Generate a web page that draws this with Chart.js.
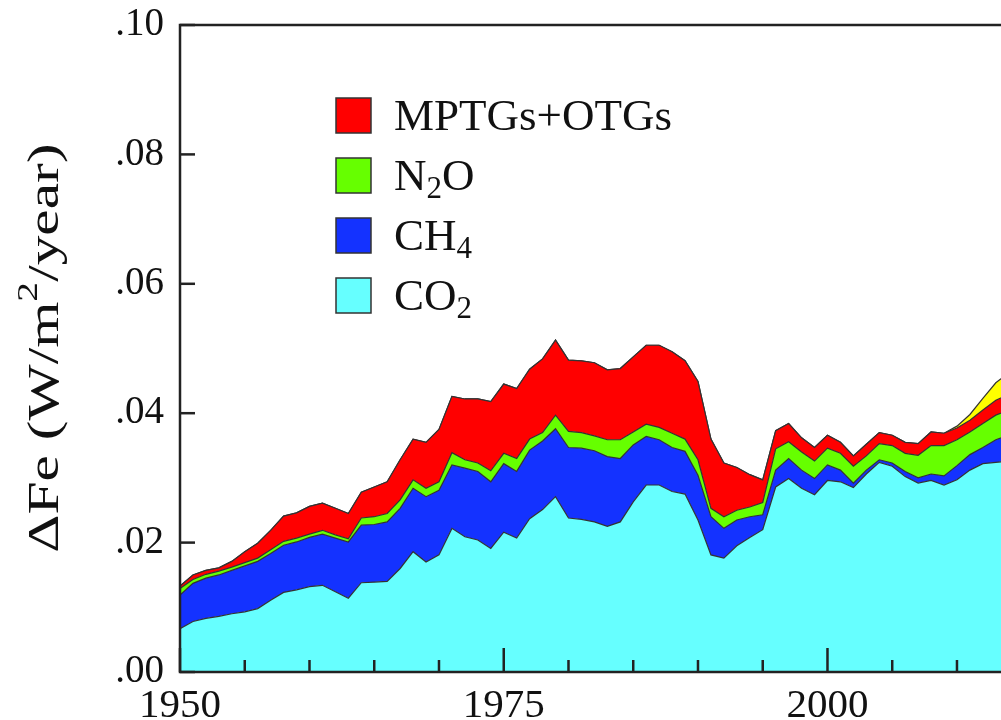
<!DOCTYPE html>
<html>
<head>
<meta charset="utf-8">
<script src="https://cdn.jsdelivr.net/npm/chart.js@4.4.1/dist/chart.umd.min.js"></script>
<style>
  html, body { margin: 0; padding: 0; background: #fff; overflow: hidden; }
  #grafico { display: block; }
</style>
</head>
<body>
<canvas id="grafico" width="1001" height="720"></canvas>
<script>
// años 1950-2014 (el gráfico original se corta cerca de 2013)
const anios = [1950,1951,1952,1953,1954,1955,1956,1957,1958,1959,
  1960,1961,1962,1963,1964,1965,1966,1967,1968,1969,
  1970,1971,1972,1973,1974,1975,1976,1977,1978,1979,
  1980,1981,1982,1983,1984,1985,1986,1987,1988,1989,
  1990,1991,1992,1993,1994,1995,1996,1997,1998,1999,
  2000,2001,2002,2003,2004,2005,2006,2007,2008,2009,
  2010,2011,2012,2013,2014]

const co2 = [.0067,.0078,.0083,.0086,.0090,.0093,.0098,.0111,.0123,.0127,
  .0132,.0134,.0124,.0114,.0138,.0139,.0140,.0160,.0186,.0170,
  .0181,.0222,.0209,.0204,.0191,.0216,.0207,.0237,.0251,.0271,
  .0238,.0236,.0232,.0225,.0232,.0263,.0289,.0289,.0279,.0275,
  .0235,.0181,.0176,.0195,.0208,.0220,.0286,.0299,.0284,.0274,
  .0296,.0294,.0285,.0306,.0324,.0318,.0302,.0292,.0296,.0289,
  .0297,.0312,.0322,.0324,.0326]

const ch4 = [.0052,.0059,.0062,.0064,.0067,.0071,.0073,.0072,.0073,.0074,
  .0076,.0079,.0083,.0087,.0089,.0089,.0092,.0093,.0098,.0101,
  .0100,.0098,.0106,.0106,.0103,.0106,.0103,.0106,.0106,.0105,
  .0109,.0110,.0110,.0108,.0098,.0088,.0075,.0070,.0068,.0066,
  .0069,.0059,.0046,.0040,.0032,.0023,.0026,.0031,.0028,.0025,
  .0024,.0018,.0007,.0006,.0004,.0005,.0008,.0008,.0010,.0014,
  .0022,.0024,.0025,.0035,.0040]

const n2o = [.0010,.0006,.0006,.0006,.0005,.0005,.0005,.0006,.0006,.0006,
  .0005,.0006,.0005,.0005,.0011,.0012,.0013,.0013,.0013,.0013,
  .0013,.0019,.0013,.0013,.0017,.0016,.0020,.0017,.0013,.0021,
  .0025,.0024,.0023,.0026,.0029,.0020,.0019,.0019,.0022,.0019,
  .0024,.0013,.0018,.0015,.0015,.0019,.0033,.0026,.0028,.0027,
  .0026,.0026,.0026,.0022,.0025,.0027,.0028,.0035,.0044,.0047,
  .0040,.0035,.0037,.0038,.0039]

const otros = [.0004,.0007,.0006,.0005,.0009,.0017,.0023,.0030,.0039,.0039,
  .0043,.0042,.0041,.0039,.0040,.0046,.0049,.0062,.0063,.0071,
  .0081,.0087,.0094,.0099,.0107,.0107,.0108,.0108,.0114,.0116,
  .0110,.0111,.0113,.0108,.0110,.0116,.0122,.0127,.0126,.0121,
  .0121,.0107,.0083,.0066,.0050,.0035,.0028,.0028,.0022,.0021,
  .0020,.0017,.0016,.0018,.0017,.0016,.0017,.0018,.0021,.0019,
  .0018,.0018,.0021,.0023,.0024]

// capa amarilla sin leyenda al final de la serie
const amarillo = [0,0,0,0,0,0,0,0,0,0,
  0,0,0,0,0,0,0,0,0,0,
  0,0,0,0,0,0,0,0,0,0,
  0,0,0,0,0,0,0,0,0,0,
  0,0,0,0,0,0,0,0,0,0,
  0,0,0,0,0,0,0,0,0,0,
  .0003,.0009,.0018,.0027,.0034]

const yTicks = [0, .02, .04, .06, .08, .10]
const xLabels = [1950, 1975, 2000]

const leyenda = [
  { texto: 'MPTGs+OTGs', sub: '', resto: '', color: '#ff0000' },
  { texto: 'N', sub: '2', resto: 'O', color: '#66ff00' },
  { texto: 'CH', sub: '4', resto: '', color: '#1432ff' },
  { texto: 'CO', sub: '2', resto: '', color: '#66ffff' }
]

const serif = '"Liberation Serif", "Times New Roman", serif'
const linea = '#333'

const capa = (label, data, color) => ({
  label: label,
  data: data,
  backgroundColor: color,
  borderColor: linea,
  borderWidth: 1.2,
  fill: '-1',
  pointRadius: 0,
  tension: 0
})

const datasets = [
  capa('CO2', co2, '#66ffff'),
  capa('CH4', ch4, '#1432ff'),
  capa('N2O', n2o, '#66ff00'),
  capa('MPTGs+OTGs', otros, '#ff0000'),
  capa('', amarillo, '#ffff00')
]
datasets[0].fill = 'origin'

// ejes, marcas hacia adentro, leyenda y título del eje y
const marco = {
  id: 'marco',
  afterDatasetsDraw(chart) {
    const ctx = chart.ctx
    const a = chart.chartArea
    const x = chart.scales.x
    const y = chart.scales.y
    ctx.save()
    ctx.strokeStyle = '#222'
    ctx.lineWidth = 2.5
    ctx.beginPath()
    ctx.moveTo(chart.width + 5, a.top)
    ctx.lineTo(a.left, a.top)
    ctx.lineTo(a.left, a.bottom)
    ctx.lineTo(chart.width + 5, a.bottom)
    ctx.stroke()
    x.ticks.forEach(t => {
      const px = x.getPixelForValue(t.value)
      const largo = t.value % 25 === 0 ? 24 : 12
      ctx.beginPath()
      ctx.moveTo(px, a.bottom)
      ctx.lineTo(px, a.bottom - largo)
      ctx.stroke()
    })
    y.ticks.forEach(t => {
      const py = y.getPixelForValue(t.value)
      ctx.beginPath()
      ctx.moveTo(a.left, py)
      ctx.lineTo(a.left + 15, py)
      ctx.stroke()
    })

    // leyenda
    ctx.textBaseline = 'alphabetic'
    ctx.textAlign = 'left'
    leyenda.forEach((item, i) => {
      const cy = 115.5 + i * 60
      ctx.fillStyle = item.color
      ctx.fillRect(336, cy - 17.5, 35, 35)
      ctx.lineWidth = 1.5
      ctx.strokeStyle = linea
      ctx.strokeRect(336, cy - 17.5, 35, 35)
      ctx.fillStyle = '#111'
      let px = 394
      const base = cy + 14.5
      ctx.font = '45px ' + serif
      ctx.fillText(item.texto, px, base)
      px += ctx.measureText(item.texto).width
      if (item.sub) {
        ctx.font = '31px ' + serif
        ctx.fillText(item.sub, px, base + 8)
        px += ctx.measureText(item.sub).width
      }
      if (item.resto) {
        ctx.font = '45px ' + serif
        ctx.fillText(item.resto, px, base)
      }
    })

    // título eje y (en el original aparece estirado a lo largo)
    const partes = [['\u0394Fe (W/m', 45, 0], ['2', 30, -17], ['/year)', 45, 0]]
    let total = 0
    partes.forEach(p => { ctx.font = p[1] + 'px ' + serif; total += ctx.measureText(p[0]).width })
    ctx.translate(46, 348)
    ctx.rotate(-Math.PI / 2)
    ctx.scale(1.32, 1)
    ctx.textBaseline = 'middle'
    let px = -total / 2
    partes.forEach(p => {
      ctx.font = p[1] + 'px ' + serif
      ctx.fillText(p[0], px, p[2])
      px += ctx.measureText(p[0]).width
    })
    ctx.restore()
  }
}

const divGrafico = document.querySelector('#grafico')
const chart = new Chart(divGrafico, {
  type: 'line',
  data: { labels: anios, datasets: datasets },
  plugins: [marco],
  options: {
    responsive: false,
    animation: false,
    devicePixelRatio: 1,
    layout: { padding: { top: 25, right: 0, left: 0, bottom: 0 } },
    plugins: { legend: { display: false }, tooltip: { enabled: false } },
    scales: {
      x: {
        type: 'linear',
        min: 1950,
        max: 2013.4,
        grid: { display: false },
        border: { display: false },
        afterFit: (s) => { s.height = 48; s.paddingLeft = 0; s.paddingRight = 0 },
        ticks: {
          stepSize: 5,
          includeBounds: false,
          autoSkip: false,
          maxRotation: 0,
          padding: 2,
          color: '#111',
          font: { family: serif, size: 41 },
          callback: (v) => xLabels.includes(v) ? String(v) : ''
        }
      },
      y: {
        stacked: true,
        min: 0,
        max: 0.1,
        grid: { display: false },
        border: { display: false },
        afterFit: (s) => { s.width = 180; s.paddingTop = 0; s.paddingBottom = 0 },
        afterBuildTicks: (s) => { s.ticks = yTicks.map(v => ({ value: v })) },
        ticks: {
          padding: 8,
          color: '#111',
          font: { family: serif, size: 39 },
          callback: (v) => v.toFixed(2).replace(/^0/, '')
        }
      }
    }
  }
})
</script>
</body>
</html>
